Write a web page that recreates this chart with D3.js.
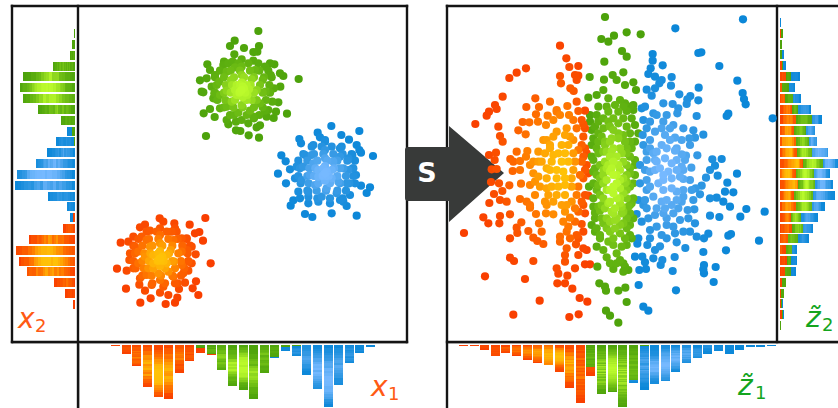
<!DOCTYPE html>
<html><head><meta charset="utf-8">
<style>html,body{margin:0;padding:0;background:#fff}svg{display:block}text{font-family:"DejaVu Sans",sans-serif}</style>
<script src="https://cdn.jsdelivr.net/npm/d3@7/dist/d3.min.js"></script>
</head><body><svg id="c" width="838" height="408"></svg>
<script>
// Scatter values, in the plot's own units.
const x1x2Green=[[475,33],[404,62],[390,78],[477,78],[432,84],[403,103],[460,96],[472,95],[322,133],[330,150],[372,125],[510,130],[523,133],[540,160],[550,168],[596,177],[300,181],[320,175],[305,215],[310,217],[343,220],[541,200],[535,247],[330,267],[311,280],[344,291],[380,300],[385,313],[408,305],[445,310],[462,295],[480,316],[470,322],[408,331],[421,333],[446,346],[477,353],[318,348],[561,281],[521,294],[528,275],[500,290],[505,270],[425,118],[460,122],[495,140],[512,165],[522,205],[517,245],[495,272],[460,290],[425,300],[390,285],[360,265],[340,235],[335,200],[345,165],[370,135],[398,125],[425,140],[465,150],[488,180],[497,215],[480,250],[450,272],[415,278],[380,260],[360,225],[358,185],[380,155],[405,142],[425,165],[455,178],[470,210],[455,240],[425,255],[395,245],[380,212],[393,180],[425,188],[447,208],[428,232],[405,210],[440,195],[410,195],[410,225],[442,225],[425,210],[432,205],[420,215],[428,200],
[385,130],[415,130],[445,130],[475,130],[360,152],[392,152],[420,152],[450,152],[478,152],[505,152],[345,172],[372,172],[402,172],[432,172],[462,172],[492,172],[515,172],[350,195],[378,195],[396,195],[420,195],[452,195],[480,195],[508,195],[345,218],[372,218],[392,218],[418,218],[436,218],[462,218],[488,218],[510,218],[352,240],[376,240],[405,240],[440,240],[470,240],[498,240],[372,262],[400,262],[428,262],[462,262],[488,262],[402,285],[440,285],[478,285]];
const x1x2Orange=[[179,595],[316,594],[269,614],[135,614],[120,622],[223,610],[225,625],[190,605],[298,636],[285,640],[309,662],[62,668],[85,665],[100,650],[332,730],[51,746],[78,806],[288,784],[278,805],[295,825],[118,794],[135,812],[152,835],[121,848],[197,852],[225,848],[232,833],[205,825],[180,818],[237,807],[80,752],[255,788],[90,700],[88,720],[260,655],[275,680],[287,703],[275,730],[265,752],[180,625],[215,635],[245,655],[262,690],[265,725],[250,760],[225,790],[190,800],[155,795],[120,775],[100,745],[105,680],[125,650],[150,632],[180,645],[220,660],[245,695],[245,735],[220,770],[180,780],[140,765],[115,730],[115,695],[140,660],[180,670],[212,690],[222,725],[205,755],[175,760],[145,745],[135,710],[150,680],[180,693],[200,705],[200,730],[180,738],[160,730],[160,705],[180,715],[187,710],[175,720],[183,722],
[140,635],[170,635],[200,635],[230,635],[115,657],[147,657],[175,657],[205,657],[233,657],[260,657],[100,677],[127,677],[157,677],[187,677],[217,677],[247,677],[270,677],[105,700],[133,700],[151,700],[175,700],[207,700],[235,700],[263,700],[100,723],[127,723],[147,723],[173,723],[191,723],[217,723],[243,723],[265,723],[107,745],[131,745],[160,745],[195,745],[225,745],[253,745],[127,767],[155,767],[183,767],[217,767],[243,767],[157,790],[195,790],[233,790]];
const x1x2Blue=[[694,318],[778,333],[653,338],[724,345],[598,357],[603,370],[747,359],[770,375],[778,390],[783,398],[757,405],[819,408],[544,406],[557,424],[534,461],[558,490],[570,448],[810,502],[800,519],[783,497],[580,541],[572,557],[615,582],[637,591],[695,580],[770,587],[740,558],[730,545],[625,550],[600,535],[768,465],[660,352],[675,360],[675,365],[640,375],[615,405],[720,385],[745,415],[590,440],[585,475],[595,515],[760,445],[765,490],[750,525],[655,545],[690,550],[720,540],[625,530],[675,390],[635,405],[610,440],[605,480],[625,515],[665,530],[710,520],[740,490],[745,450],[720,410],[675,415],[640,430],[630,465],[645,495],[680,505],[715,485],[720,445],[700,425],[675,438],[695,450],[695,475],[675,482],[655,470],[655,450],[675,460],[680,455],[670,465],[678,468],
[635,380],[665,380],[695,380],[725,380],[610,402],[642,402],[670,402],[700,402],[728,402],[755,402],[595,422],[622,422],[652,422],[682,422],[712,422],[742,422],[765,422],[600,445],[628,445],[646,445],[670,445],[702,445],[730,445],[758,445],[595,468],[622,468],[642,468],[668,468],[686,468],[712,468],[738,468],[760,468],[602,490],[626,490],[655,490],[690,490],[720,490],[748,490],[622,512],[650,512],[678,512],[712,512],[738,512],[652,535],[690,535],[728,535]];
const z1z2Orange=[[330,122],[349,160],[358,186],[385,183],[330,213],[375,210],[385,212],[333,235],[380,225],[361,250],[371,258],[228,190],[200,203],[178,219],[158,275],[256,280],[300,290],[135,300],[140,312],[117,320],[110,332],[229,306],[267,306],[352,303],[380,290],[76,357],[145,365],[150,393],[158,410],[205,376],[227,388],[218,351],[238,352],[258,328],[264,350],[288,360],[293,332],[320,315],[330,330],[357,330],[385,318],[405,317],[400,358],[117,450],[138,443],[134,465],[125,493],[140,492],[181,462],[200,440],[232,438],[228,455],[190,470],[210,468],[188,498],[210,495],[123,531],[147,535],[178,541],[213,536],[240,540],[132,567],[157,558],[118,594],[150,585],[170,590],[210,582],[230,590],[240,608],[180,628],[100,637],[115,655],[150,633],[148,655],[214,652],[200,668],[235,678],[202,684],[180,700],[42,684],[250,698],[262,708],[280,717],[258,627],[267,655],[275,680],[288,625],[310,628],[180,758],[192,768],[250,768],[105,814],[225,822],[269,887],[190,929],[358,936],[386,928],[412,890],[389,879],[367,851],[345,835],[322,835],[352,812],[325,806],[320,790],[345,770],[375,790],[405,778],[420,778],[400,730],[410,735],[378,718],[350,730],[330,710],[330,695],[355,665],[380,690],[395,657],[360,638],[405,625],[375,610],[395,590],[415,572],[365,590],[335,600],[310,590],[285,590],[295,570],[255,570],[290,550],[325,545],[345,540],[385,545],[415,505],[390,510],[340,500],[370,495],[265,515],[240,480],[275,470],[290,490],[310,450],[345,445],[385,435],[400,455],[410,480],[265,440],[280,405],[320,380],[345,390],[380,370],[400,395],[405,430],[335,420],[370,405],[320,320],[290,405],[300,430],[355,470],[345,520],[375,470],[250,505],
[310,345],[370,345],[395,345],[350,370],[405,370],[310,395],[360,395],[300,420],[355,420],[395,420],[285,445],[325,445],[370,445],[410,445],[305,470],[335,470],[395,470],[300,495],[320,495],[405,495],[290,520],[320,520],[365,520],[400,520],[270,545],[305,545],[365,545],[320,570],[345,570],[380,570],[405,570],[290,600],[350,600],[400,600],[345,620],[385,620],[340,650],[375,650],[350,680],[400,680],[360,700],[385,700],[345,750],[385,750],[250,470],[265,470],[255,530],[240,600]];
const z1z2Green=[[465,36],[454,102],[475,110],[492,92],[530,82],[572,88],[516,138],[530,155],[463,170],[419,216],[462,224],[488,210],[520,202],[500,225],[525,240],[550,232],[558,255],[415,278],[440,270],[460,255],[475,280],[510,285],[525,295],[550,300],[550,315],[420,330],[440,330],[475,320],[495,300],[505,320],[530,318],[420,350],[445,350],[475,350],[505,355],[555,360],[425,375],[460,370],[490,375],[520,390],[565,385],[430,400],[455,395],[485,400],[540,410],[425,420],[465,420],[510,430],[545,430],[445,445],[485,440],[555,465],[430,465],[465,470],[490,470],[520,470],[435,490],[460,495],[485,490],[510,495],[540,490],[417,545],[430,500],[540,505],[555,510],[445,540],[470,525],[510,525],[540,545],[450,570],[490,565],[520,565],[545,595],[435,623],[450,617],[475,595],[510,595],[540,600],[425,660],[435,680],[450,690],[460,655],[495,645],[520,655],[540,660],[540,690],[540,625],[480,680],[510,685],[475,710],[440,725],[460,735],[515,725],[500,745],[470,757],[510,765],[490,792],[525,785],[520,800],[535,795],[442,785],[448,835],[465,845],[468,857],[505,857],[526,848],[530,891],[468,917],[480,932],[505,953],[485,620],[515,625],[455,600],[490,625],[480,500],[500,510],[520,520],[490,545],[470,555],[510,550],[480,590],[500,580],[465,610],[530,580],[495,610],[520,620],[455,640],[480,650],[510,660],[470,440],[500,455],[530,445],[450,520],[530,530],[470,490],[505,480],[515,445],[480,410],[505,400],[460,440],
[445,305],[470,305],[520,305],[540,305],[460,340],[490,340],[520,340],[545,340],[435,365],[480,365],[530,365],[445,385],[505,385],[540,385],[445,410],[465,410],[525,410],[555,410],[440,430],[490,430],[530,430],[425,455],[480,455],[540,455],[450,480],[475,480],[530,480],[555,480],[440,510],[460,510],[490,510],[530,510],[430,535],[460,535],[500,535],[525,535],[550,535],[440,555],[480,555],[530,555],[430,580],[460,580],[510,580],[550,580],[430,605],[445,605],[515,605],[535,605],[435,640],[470,640],[500,640],[530,640],[550,640],[440,670],[470,670],[495,670],[530,670],[450,700],[490,700],[525,700],[545,700],[490,720],[530,720],[480,775],[500,775],[520,775]];
const z1z2Blue=[[879,43],[676,70],[745,144],[754,142],[808,183],[862,227],[608,147],[608,167],[638,181],[602,190],[595,207],[615,215],[635,225],[665,216],[663,242],[590,254],[615,250],[605,272],[628,235],[746,248],[688,268],[721,273],[712,283],[710,297],[745,286],[878,264],[882,282],[887,298],[835,326],[830,333],[968,340],[575,310],[585,305],[610,325],[640,295],[668,297],[685,310],[682,325],[740,333],[580,345],[600,350],[640,350],[670,360],[730,376],[760,389],[718,400],[735,398],[720,420],[675,437],[695,448],[708,452],[742,451],[578,390],[615,380],[645,390],[675,398],[590,440],[610,445],[635,420],[645,460],[665,475],[695,485],[724,488],[787,463],[815,462],[780,495],[795,482],[768,518],[803,512],[861,506],[690,515],[665,520],[700,522],[570,480],[570,535],[600,500],[630,490],[600,545],[625,535],[665,550],[680,560],[755,542],[737,550],[832,533],[825,560],[850,562],[780,580],[800,578],[820,590],[840,605],[750,568],[700,575],[695,590],[730,585],[565,585],[580,600],[610,575],[635,590],[665,600],[713,615],[733,613],[560,627],[615,630],[640,625],[670,625],[690,645],[715,640],[735,655],[780,632],[808,636],[871,635],[889,612],[944,620],[575,650],[600,675],[635,690],[650,660],[675,685],[700,680],[720,680],[740,695],[762,700],[775,686],[835,692],[843,687],[927,707],[828,736],[565,700],[562,716],[592,720],[615,735],[630,724],[680,712],[706,729],[760,741],[555,755],[577,755],[585,772],[610,760],[637,765],[632,780],[674,756],[668,798],[588,792],[568,795],[762,780],[760,793],[762,805],[797,786],[791,831],[566,840],[678,856],[580,905],[595,917],[620,440],[640,510],[620,470],[655,500],[580,420],
[620,330],[650,330],[590,370],[635,370],[660,370],[700,370],[600,405],[660,405],[695,405],[600,430],[650,430],[680,430],[590,465],[615,465],[680,465],[705,465],[585,495],[615,495],[680,495],[700,495],[590,525],[640,525],[720,525],[590,555],[640,555],[700,555],[725,555],[585,585],[650,585],[680,585],[590,610],[620,610],[645,610],[685,610],[595,640],[650,640],[620,665],[670,665],[600,700],[650,700]];

// Histogram counts.
const x1HistOrange=[1,9,21,42,52,54,28,16,5,1,0,0,0,0,0,0,0,0,0,0,0,0,0,0,0];
const x1HistGreen =[0,0,0,0,0,0,0,0,3,9,25,41,45,54,28,12,2,1,0,0,0,0,0,0,0];
const x1HistBlue  =[0,0,0,0,0,0,0,0,0,0,0,0,0,0,0,1,4,10,30,44,62,40,18,8,2];
const x2HistOrange=[0,0,0,0,0,0,0,0,0,0,0,0,0,0,0,0,0,2,12,46,59,56,48,21,10,2];
const x2HistGreen =[1,3,5,22,52,55,52,37,14,3,1,0,0,0,0,0,0,0,0,0,0,0,0,0,0,0];
const x2HistBlue  =[0,0,0,0,0,0,0,0,0,5,18,28,39,58,60,27,8,3,0,0,0,0,0,0,0,0];
const z1HistOrange=[1,1,5,11,8,11,15,18,20,27,43,58,9,0,0,0,0,0,0,0,0,0,0,0,0,0,0,0,0,0];
const z1HistGreen =[0,0,0,0,0,0,0,0,0,0,0,0,22,49,47,62,35,1,0,0,0,0,0,0,0,0,0,0,0,0];
const z1HistBlue  =[0,0,0,0,0,0,0,0,0,0,0,0,0,0,0,0,3,44,39,36,27,18,13,9,6,9,5,2,2,1];
const z2HistOrange=[0,1,0,0,2,6,2,5,12,16,14,16,17,23,16,18,14,16,11,12,8,6,7,5,2,1,1,2,0];
const z2HistGreen =[0,2,2,2,1,5,7,8,6,16,12,13,15,20,18,17,19,16,10,11,10,6,4,6,4,3,1,1,1];
const z2HistBlue  =[1,0,0,2,3,9,6,8,13,10,9,8,16,15,16,18,22,13,17,10,11,5,6,5,0,0,1,1,0];

const clusterNames=["orange","green","blue"];
const rampStops={orange:["#f93e00","#ff7a00","#ffc207"],green:["#4ca20b","#74c216","#bcfb2c"],blue:["#0b87d8","#3a9ce6","#76b9ff"]};
const ink="#141414", arrowFill="#383a39", labelOrange="#ff5a14", labelGreen="#14a51e";

const ramp={};
clusterNames.forEach(n=>ramp[n]=d3.scaleLinear().domain([0,.5,1]).range(rampStops[n]).clamp(true));

const svg=d3.select("#c");
const leftX=d3.scaleLinear().domain([-66,921]).range([78,407]);
const leftY=d3.scaleLinear().domain([-42,966]).range([6,342]);
const rightX=d3.scaleLinear().domain([-9,981]).range([447,777]);
const rightY=d3.scaleLinear().domain([3,1011]).range([6,342]);

// density level, falling away from each cloud's centre
const leftShape={orange:[180,715,72,72,72],green:[425,210,72,72,72],blue:[675,460,72,72,72]};
const rightShape={orange:[345,490,150,48,210],green:[490,530,52,58,215],blue:[640,500,70,115,200]};
const level=(p,s)=>{const dx=p[0]-s[0],dy=p[1]-s[1],sx=dx<0?s[2]:s[3];return Math.exp(-(dx*dx/(sx*sx)+dy*dy/(s[4]*s[4])));};
const build=(arr,name,shape,X,Y)=>arr.map(p=>({name,px:X(p[0]),py:Y(p[1]),t:level(p,shape[name])}));

const leftPts=[...build(x1x2Orange,"orange",leftShape,leftX,leftY),...build(x1x2Green,"green",leftShape,leftX,leftY),...build(x1x2Blue,"blue",leftShape,leftX,leftY)];
const rightPts=[...build(z1z2Orange,"orange",rightShape,rightX,rightY),...build(z1z2Green,"green",rightShape,rightX,rightY),...build(z1z2Blue,"blue",rightShape,rightX,rightY)];

// frames
const fringe=[[12,343.5,407,343.5],[447,343.5,838,343.5],[79.5,344,79.5,408]];
const lines=[[12,6,407,6],[12,342,407,342],[12,6,12,342],[407,6,407,342],[78,6,78,408],[447,6,838,6],[447,342,838,342],[447,6,447,408],[777,6,777,342]];
svg.append("g").selectAll("line").data(fringe).join("line")
 .attr("x1",d=>d[0]).attr("y1",d=>d[1]).attr("x2",d=>d[2]).attr("y2",d=>d[3]).attr("stroke","#ccc").attr("stroke-width",1);
svg.append("g").selectAll("line").data(lines).join("line")
 .attr("x1",d=>d[0]).attr("y1",d=>d[1]).attr("x2",d=>d[2]).attr("y2",d=>d[3]).attr("stroke",ink).attr("stroke-width",2.4).attr("stroke-linecap","square");

// histogram drawn as stacked stripes, one stripe per scatter point of the bin
function hist(opts){
 const {series,order,start,step,base,dir,pts,axis}=opts;
 const n=series[order[0]].length;
 const band=d3.scaleBand().domain(d3.range(n)).range([start,start+(n-1)*step+9]).paddingInner(1-9/step);
 const g=svg.append("g").attr("shape-rendering","crispEdges");
 const stripes=[];
 d3.range(n).forEach(i=>{
  let off=0;
  order.forEach(name=>{
   const v=series[name][i]; if(!v) return;
   let inBin=pts.filter(p=>p.name===name&&Math.floor((p[axis]-start)/step)===i);
   inBin.sort((a,b)=>d3.ascending(axis==="px"?a.py:a.px,axis==="px"?b.py:b.px));
   if(!inBin.length) inBin=[{t:.05}];
   const w=v/inBin.length;
   inBin.forEach((p,j)=>stripes.push({i,a:off+j*w,b:off+(j+1)*w,c:ramp[name](p.t)}));
   off+=v;
  });
 });
 const sel=g.selectAll("rect").data(stripes).join("rect").attr("fill",d=>d.c);
 if(dir==="down"){sel.attr("x",d=>band(d.i)).attr("width",band.bandwidth()).attr("y",d=>base+d.a).attr("height",d=>d.b-d.a);}
 else if(dir==="left"){sel.attr("y",d=>band(d.i)).attr("height",band.bandwidth()).attr("x",d=>base-d.b).attr("width",d=>d.b-d.a);}
 else {sel.attr("y",d=>band(d.i)).attr("height",band.bandwidth()).attr("x",d=>base+d.a).attr("width",d=>d.b-d.a);}
}
hist({series:{orange:x1HistOrange,green:x1HistGreen,blue:x1HistBlue},order:["green","orange","blue"],start:111,step:10.625,base:345,dir:"down",pts:leftPts,axis:"px"});
hist({series:{orange:x2HistOrange,green:x2HistGreen,blue:x2HistBlue},order:["green","orange","blue"],start:29,step:10.84,base:75,dir:"left",pts:leftPts,axis:"py"});
hist({series:{orange:z1HistOrange,green:z1HistGreen,blue:z1HistBlue},order:["green","orange","blue"],start:459,step:10.62,base:345,dir:"down",pts:rightPts,axis:"px"});
hist({series:{orange:z2HistOrange,green:z2HistGreen,blue:z2HistBlue},order:["orange","green","blue"],start:18,step:10.82,base:780,dir:"right",pts:rightPts,axis:"py"});

// arrow, beneath the points
svg.append("path").attr("fill",arrowFill)
 .attr("d","M408 147H449V126L504 173L449 222V201H408Q405 201 405 198V150Q405 147 408 147Z");
svg.append("text").attr("x",427).attr("y",182).attr("text-anchor","middle").attr("font-size",27).attr("font-weight",700).attr("fill","#fff").text("S");

// points
const draw=pts=>svg.append("g").selectAll("circle").data(pts.slice().sort((a,b)=>a.t-b.t)).join("circle")
 .attr("cx",d=>d.px).attr("cy",d=>d.py).attr("r",4.1).attr("fill",d=>ramp[d.name](d.t));
draw(leftPts);draw(rightPts);

// labels
function label(x,y,main,sub,color,subDx){
 const t=svg.append("text").attr("x",x).attr("y",y).attr("fill",color).attr("font-size",28).attr("font-style","italic");
 t.append("tspan").text(main);
 svg.append("text").attr("x",x+subDx).attr("y",y+3.5).attr("fill",color).attr("font-size",18).text(sub);
}
label(18,328,"x","2",labelOrange,17);
label(371,396,"x","1",labelOrange,17);
label(738,395,"z\u0303","1",labelGreen,17);
label(806,327,"z\u0303","2",labelGreen,16);
</script></body></html>
